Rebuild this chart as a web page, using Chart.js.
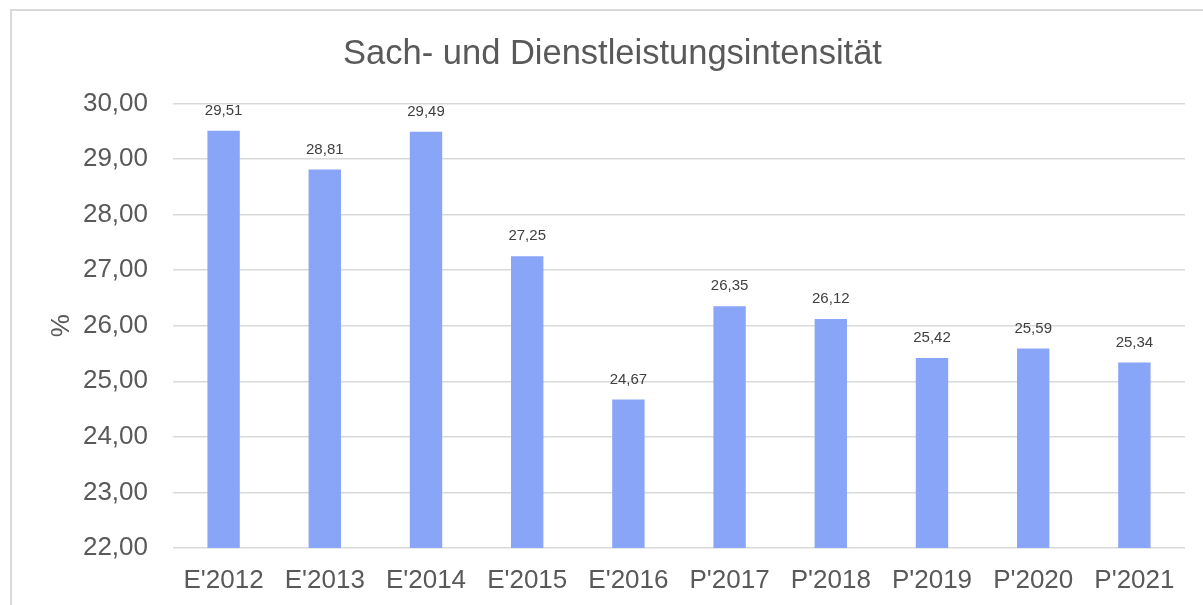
<!DOCTYPE html>
<html>
<head>
<meta charset="utf-8">
<script src="https://cdn.jsdelivr.net/npm/chart.js@4"></script>
<style>
  html, body { margin: 0; padding: 0; overflow: hidden; background: #fff; }
  #frame { position: absolute; left: 10px; top: 9px; width: 1300px; height: 700px; border: 2px solid #d9d9d9; }
  #wrap { position: absolute; left: 0; top: 0; width: 1203px; height: 605px; }
</style>
</head>
<body>
<div id="frame"></div>
<div id="wrap"><canvas id="chart"></canvas></div>
<script>
var categories = ["E'2012", "E'2013", "E'2014", "E'2015", "E'2016", "P'2017", "P'2018", "P'2019", "P'2020", "P'2021"];
var values = [29.51, 28.81, 29.49, 27.25, 24.67, 26.35, 26.12, 25.42, 25.59, 25.34];
var yMin = 22;
var yMax = 30;

function deNum(v) {
    return Number(v).toFixed(2).replace('.', ',');
}

// labels above the bars
var barLabels = {
    id: 'barLabels',
    afterDatasetsDraw: function (chart) {
        var ctx = chart.ctx;
        var meta = chart.getDatasetMeta(0);
        ctx.save();
        ctx.font = '15px "Liberation Sans", Arial, sans-serif';
        ctx.fillStyle = '#404040';
        ctx.textAlign = 'center';
        ctx.textBaseline = 'middle';
        meta.data.forEach(function (bar, i) {
            ctx.fillText(deNum(values[i]), bar.x, bar.y - 20);
        });
        ctx.restore();
    }
};

Chart.defaults.font.family = '"Liberation Sans", Arial, sans-serif';
Chart.defaults.color = '#595959';

new Chart(document.getElementById('chart').getContext('2d'), {
    type: 'bar',
    data: {
        labels: categories,
        datasets: [
            {
                data: values,
                backgroundColor: '#89a5f8',
                borderWidth: 0,
                categoryPercentage: 1,
                barPercentage: 0.32
            }
        ]
    },
    options: {
        responsive: true,
        maintainAspectRatio: false,
        animation: false,
        layout: {
            padding: { left: 40, right: 18, top: 0, bottom: 0 }
        },
        plugins: {
            legend: { display: false },
            tooltip: { enabled: false },
            title: {
                display: true,
                text: 'Sach- und Dienstleistungsintensität',
                color: '#595959',
                font: { size: 34.5, weight: 'normal' },
                padding: { top: 34, bottom: 28 }
            }
        },
        scales: {
            x: {
                grid: { display: false },
                border: { display: false },
                ticks: {
                    color: '#595959',
                    font: { size: 26 },
                    padding: 9,
                    maxRotation: 0,
                    autoSkip: false
                },
                afterFit: function (scale) { scale.height = 57; }
            },
            y: {
                min: yMin,
                max: yMax,
                border: { display: false },
                grid: { color: '#d9d9d9', lineWidth: 1.5, drawTicks: false },
                ticks: {
                    stepSize: 1,
                    color: '#595959',
                    font: { size: 26 },
                    padding: 25,
                    callback: function (v) { return deNum(v); }
                },
                title: {
                    display: true,
                    text: '%',
                    color: '#595959',
                    font: { size: 26 },
                    padding: { top: 6, bottom: 0 }
                },
                afterFit: function (scale) { scale.width = 133; }
            }
        }
    },
    plugins: [barLabels]
});
</script>
</body>
</html>
